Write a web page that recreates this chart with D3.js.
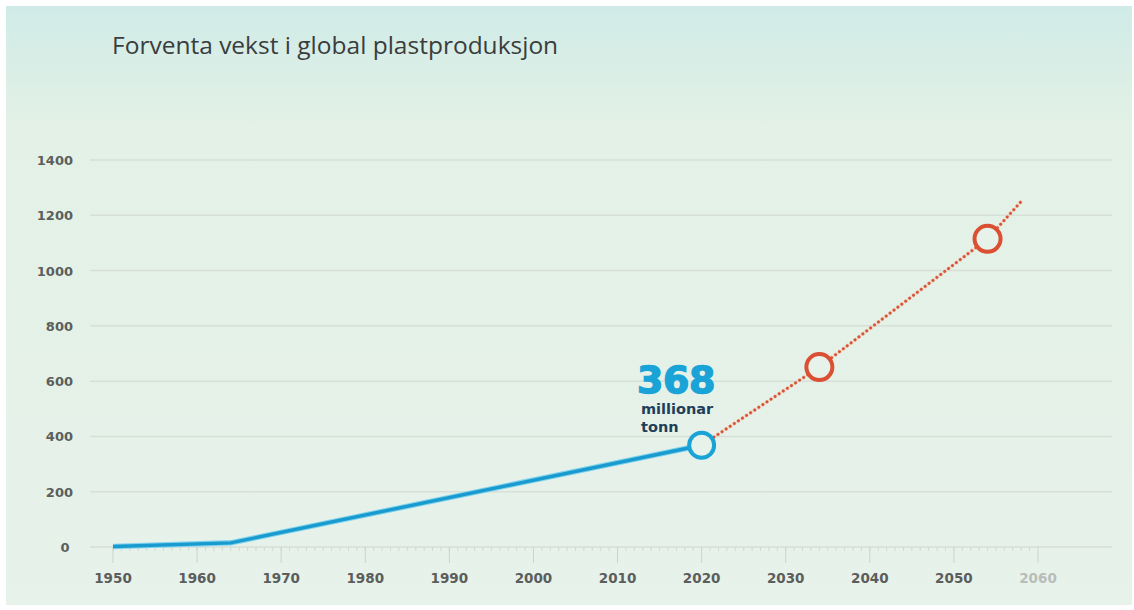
<!DOCTYPE html>
<html><head><meta charset="utf-8">
<script src="https://cdn.jsdelivr.net/npm/d3@7"></script>
<style>body{margin:0;background:#fff}svg{display:block}</style>
</head><body>
<svg id="c" width="1134" height="610"></svg>
<script>
const title = "Forventa vekst i global plastproduksjon";
const histYears = [1950, 1964, 2020];
const histValues = [2, 15, 368];
const projYears = [2020, 2034, 2054, 2058];
const projValues = [368, 651, 1115, 1250];
const markerYears = [2034, 2054];
const markerValues = [651, 1115];
const yTicks = [0, 200, 400, 600, 800, 1000, 1200, 1400];
const xTicks = [1950, 1960, 1970, 1980, 1990, 2000, 2010, 2020, 2030, 2040, 2050, 2060];
const calloutValue = "368";
const calloutUnit = ["millionar", "tonn"];

const svg = d3.select("#c");
const defs = svg.append("defs");
const g = defs.append("linearGradient").attr("id","bg").attr("x1",0).attr("y1",0).attr("x2",0).attr("y2",1);
g.append("stop").attr("offset","0").attr("stop-color","#d0ebe7");
g.append("stop").attr("offset","0.2").attr("stop-color","#e3f1e6");
g.append("stop").attr("offset","1").attr("stop-color","#e7f2ea");
svg.append("rect").attr("x",6).attr("y",6).attr("width",1126).attr("height",599).attr("fill","url(#bg)");

svg.append("text").attr("x",112).attr("y",54).text(title)
  .attr("font-family","'Open Sans', sans-serif").attr("font-size",24.5).attr("fill","#3a3d3d");

const x = d3.scaleLinear().domain([1950, 2060]).range([113, 1038]);
const y = d3.scaleLinear().domain([0, 1400]).range([547, 160]);

const tickFont = "'DejaVu Sans', sans-serif";

// gridlines
svg.append("g").selectAll("line").data(yTicks.filter(d=>d>0)).join("line")
  .attr("x1",90).attr("x2",1112).attr("y1",d=>y(d)).attr("y2",d=>y(d))
  .attr("stroke","#d6dfd8").attr("stroke-width",1.5);

// y labels
svg.append("g").selectAll("text").data(yTicks).join("text")
  .attr("x",d=> d===0 ? 65 : 73).attr("y",d=>y(d)+5).attr("text-anchor",d=>d===0?"middle":"end")
  .attr("font-family",tickFont).attr("font-weight",700).attr("font-size",13)
  .attr("fill","#5b5e5c").text(d=>d);

// x axis line
svg.append("line").attr("x1",90).attr("x2",1112).attr("y1",y(0)).attr("y2",y(0)).attr("stroke","#cdd4ce").attr("stroke-width",1.2);
// minor ticks
svg.append("g").selectAll("line").data(d3.range(1950, 2060)).join("line")
  .attr("x1",d=>x(d)).attr("x2",d=>x(d)).attr("y1",y(0)).attr("y2",y(0)+4)
  .attr("stroke","#d2d8d2").attr("stroke-width",1);
// major ticks
svg.append("g").selectAll("line").data(xTicks).join("line")
  .attr("x1",d=>x(d)).attr("x2",d=>x(d)).attr("y1",y(0)).attr("y2",y(0)+16)
  .attr("stroke","#cdd3cd").attr("stroke-width",1);
svg.append("g").selectAll("text").data(xTicks).join("text")
  .attr("x",d=>x(d)).attr("y",583).attr("text-anchor","middle")
  .attr("font-family",tickFont).attr("font-weight",700).attr("font-size",13.5)
  .attr("fill",d=>d===2060?"#b9bdb9":"#5b5e5c").text(d=>d);

// projection dotted line
const line = d3.line().x(d=>x(d[0])).y(d=>y(d[1]));
svg.append("path").datum(d3.zip(projYears, projValues)).attr("d",line)
  .attr("fill","none").attr("stroke","#f3c2ae").attr("stroke-width",4).attr("stroke-linecap","round")
  .attr("stroke-dasharray","0.1,4.8");
svg.append("path").datum(d3.zip(projYears, projValues)).attr("d",line)
  .attr("fill","none").attr("stroke","#d2553a").attr("stroke-width",2.8).attr("stroke-linecap","round")
  .attr("stroke-dasharray","0.1,4.8");

// historical line
svg.append("path").datum(d3.zip(histYears, histValues)).attr("d",line)
  .attr("fill","none").attr("stroke","#7fd3ee").attr("stroke-width",5.5).attr("stroke-linejoin","round");
svg.append("path").datum(d3.zip(histYears, histValues)).attr("d",line)
  .attr("fill","none").attr("stroke","#1a9bcf").attr("stroke-width",3.4).attr("stroke-linejoin","round");

// markers
svg.append("circle").attr("cx",x(2020)).attr("cy",y(368)).attr("r",12.5)
  .attr("fill","#e7f2ea").attr("stroke","#1aa3d6").attr("stroke-width",4);
svg.append("g").selectAll("circle").data(d3.zip(markerYears, markerValues)).join("circle")
  .attr("cx",d=>x(d[0])).attr("cy",d=>y(d[1])).attr("r",13)
  .attr("fill","#e7f2ea").attr("stroke","#db4f32").attr("stroke-width",4);

// callout
svg.append("text").attr("x",637).attr("y",393).text(calloutValue)
  .attr("font-family","'DejaVu Sans', sans-serif").attr("font-weight",700).attr("font-size",38)
  .attr("fill","#1aa3d6").attr("stroke","#1aa3d6").attr("stroke-width",1.4).attr("letter-spacing",-0.5);
svg.append("g").selectAll("text").data(calloutUnit).join("text")
  .attr("x",641).attr("y",(d,i)=>414+i*18).text(d=>d)
  .attr("font-family","'DejaVu Sans', sans-serif").attr("font-weight",700).attr("font-size",14.5)
  .attr("fill","#1e3f5c");
</script>
</body></html>
